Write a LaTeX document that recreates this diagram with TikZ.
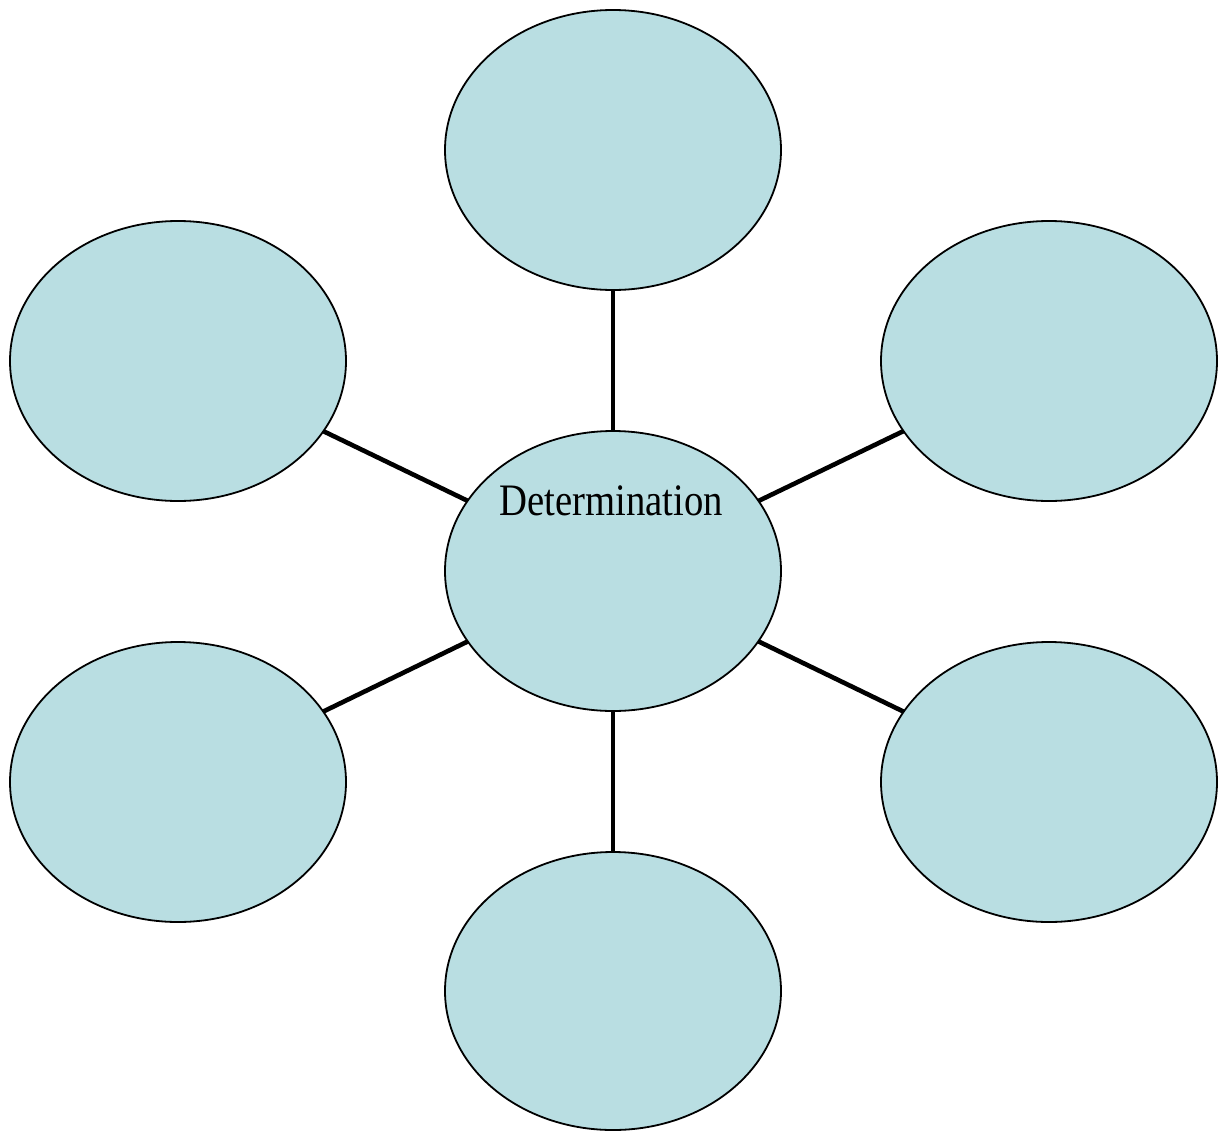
\documentclass[tikz,border=0pt]{standalone}
\usepackage{fontspec}
\setmainfont{Liberation Serif}
\usetikzlibrary{shapes.geometric}
\definecolor{bubblefill}{RGB}{185,222,226}
\tikzset{
  bubble/.style={ellipse, draw=black, line width=1.8pt, fill=bubblefill,
    minimum width=336pt, minimum height=280pt, inner sep=0pt, outer sep=0pt},
  spoke/.style={line width=4.6pt, black},
  centertext/.style={font=\fontsize{45}{48}\selectfont, xscale=0.86, inner sep=0pt}
}
\begin{document}
\begin{tikzpicture}[x=1pt, y=-1pt]
  \useasboundingbox (0,0) rectangle (1220,1132);
  % the hub and its six satellite bubbles
  \node[bubble] (hub) at (613,571) {};
  \node[bubble] (top) at (613,150) {};
  \node[bubble] (ul) at (178,361) {};
  \node[bubble] (ur) at (1049,361) {};
  \node[bubble] (ll) at (178,782) {};
  \node[bubble] (lr) at (1049,782) {};
  \node[bubble, minimum height=278pt] (bot) at (613,991) {};
  % spokes from the hub to each bubble
  \draw[spoke] (hub) -- (top);
  \draw[spoke] (hub) -- (ul);
  \draw[spoke] (hub) -- (ur);
  \draw[spoke] (hub) -- (ll);
  \draw[spoke] (hub) -- (lr);
  \draw[spoke] (hub) -- (bot);
  \node[centertext] (hubtext) at (611,501) {Determination};
\end{tikzpicture}
\end{document}
